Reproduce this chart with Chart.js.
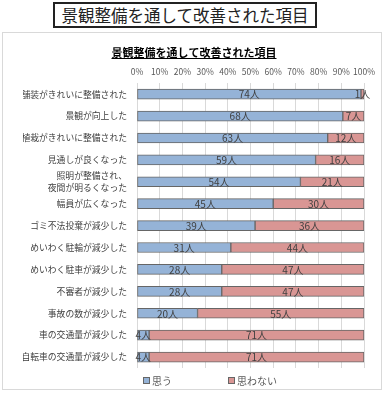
<!DOCTYPE html>
<html>
<head>
<meta charset="utf-8">
<script src="https://cdn.jsdelivr.net/npm/chart.js@4/dist/chart.umd.min.js"></script>
<style>
  body { margin: 0; background: #fff; font-family: "Noto Sans CJK JP", sans-serif; }
  #wrap { position: relative; width: 385px; height: 395px; }
  #mainTitle {
    position: absolute; left: 53px; top: 2px; width: 260px; height: 22px;
    border: 2px solid #222; text-align: center; line-height: 22px;
    font-size: 16.5px; color: #222;
  }
  #frame {
    position: absolute; left: 2px; top: 32px; width: 378px; height: 356px;
    border: 1px solid #d9d9d9;
  }
  #legend { position: absolute; left: 0; top: 341px; width: 378px; height: 14px; }
  .item { position: absolute; top: 0; font-size: 10px; color: #595959; line-height: 14px; }
  .box { display: inline-block; width: 5px; height: 5px; border: 1px solid #666; margin-right: 2px; vertical-align: 1px; }
</style>
</head>
<body>
<div id="wrap">
  <div id="mainTitle">景観整備を通して改善された項目</div>
  <div id="frame">
    <canvas id="barChart" width="378" height="356"></canvas>
    <div id="legend"></div>
  </div>
</div>
<script>
const categories = [
  '舗装がきれいに整備された',
  '景観が向上した',
  '植栽がきれいに整備された',
  '見通しが良くなった',
  ['照明が整備され、', '夜間が明るくなった'],
  '幅員が広くなった',
  'ゴミ不法投棄が減少した',
  'めいわく駐輪が減少した',
  'めいわく駐車が減少した',
  '不審者が減少した',
  '事故の数が減少した',
  '車の交通量が減少した',
  '自転車の交通量が減少した'
];
const agreeCounts = [74, 68, 63, 59, 54, 45, 39, 31, 28, 28, 20, 4, 4];
const disagreeCounts = [1, 7, 12, 16, 21, 30, 36, 44, 47, 47, 55, 71, 71];
const seriesNames = ['思う', '思わない'];
const seriesColors = ['#95b3d7', '#d99694'];

// 100%積み上げ用に割合へ変換
const totals = agreeCounts.map((v, i) => v + disagreeCounts[i]);
const toPercent = arr => arr.map((v, i) => v / totals[i] * 100);

const fontFamily = '"Noto Sans CJK JP", sans-serif';

// 各区間の中央に人数を表示
const countLabels = {
  id: 'countLabels',
  afterDatasetsDraw(chart) {
    const ctx = chart.ctx;
    ctx.save();
    ctx.font = '10px ' + fontFamily;
    ctx.fillStyle = '#404040';
    ctx.textAlign = 'center';
    ctx.textBaseline = 'middle';
    chart.data.datasets.forEach((ds, i) => {
      chart.getDatasetMeta(i).data.forEach((bar, j) => {
        ctx.fillText(ds.counts[j] + '人', (bar.x + bar.base) / 2, bar.y + 0.5);
      });
    });
    ctx.restore();
  }
};

// タイトルの下線
const titleUnderline = {
  id: 'titleUnderline',
  afterDraw(chart) {
    const tb = chart.titleBlock;
    const ctx = chart.ctx;
    ctx.save();
    ctx.font = 'bold 11px ' + fontFamily;
    const w = ctx.measureText(chart.options.plugins.title.text).width;
    const cx = (tb.left + tb.right) / 2;
    const y = tb.top + 13 + 12;
    ctx.strokeStyle = '#000';
    ctx.lineWidth = 1;
    ctx.beginPath();
    ctx.moveTo(cx - w / 2, y + 0.5);
    ctx.lineTo(cx + w / 2, y + 0.5);
    ctx.stroke();
    ctx.restore();
  }
};

const config = {
  type: 'bar',
  data: {
    labels: categories,
    datasets: [
      { label: seriesNames[0], data: toPercent(agreeCounts), counts: agreeCounts,
        backgroundColor: seriesColors[0], borderColor: '#666', borderWidth: 1,
        borderSkipped: false, barThickness: 10 },
      { label: seriesNames[1], data: toPercent(disagreeCounts), counts: disagreeCounts,
        backgroundColor: seriesColors[1], borderColor: '#666', borderWidth: 1,
        borderSkipped: false, barThickness: 10 }
    ]
  },
  options: {
    indexAxis: 'y',
    responsive: false,
    animation: false,
    layout: { padding: { left: 20, right: 16, top: 0, bottom: 21 } },
    scales: {
      x: {
        position: 'top',
        stacked: true,
        min: 0,
        max: 100,
        grid: { color: '#d9d9d9', drawTicks: false },
        border: { display: false },
        ticks: {
          stepSize: 10,
          padding: 6,
          autoSkip: false,
          maxRotation: 0,
          minRotation: 0,
          color: '#595959',
          font: { size: 8.5, family: fontFamily },
          callback: v => v + '%'
        },
        afterFit: scale => { scale.height = 19; }
      },
      y: {
        stacked: true,
        grid: { display: false },
        border: { display: false },
        ticks: {
          padding: 2,
          autoSkip: false,
          color: '#404040',
          font: { size: 8.8, family: fontFamily, lineHeight: 1.3 }
        },
        afterFit: scale => { scale.width = 114; }
      }
    },
    plugins: {
      legend: { display: false },
      tooltip: { enabled: false },
      title: {
        display: true,
        text: '景観整備を通して改善された項目',
        color: '#000',
        font: { size: 11, weight: 'bold', family: fontFamily },
        padding: { top: 13, bottom: 5 }
      }
    }
  },
  plugins: [countLabels, titleUnderline]
};

const chart = new Chart(document.getElementById('barChart'), config);

// 凡例
const legendEl = document.getElementById('legend');
const legendX = [140, 225];
chart.data.datasets.forEach((ds, i) => {
  const item = document.createElement('span');
  item.className = 'item';
  item.style.left = legendX[i] + 'px';
  item.innerHTML = '<span class="box" style="background:' + ds.backgroundColor + '"></span>' + ds.label;
  legendEl.appendChild(item);
});
</script>
</body>
</html>
